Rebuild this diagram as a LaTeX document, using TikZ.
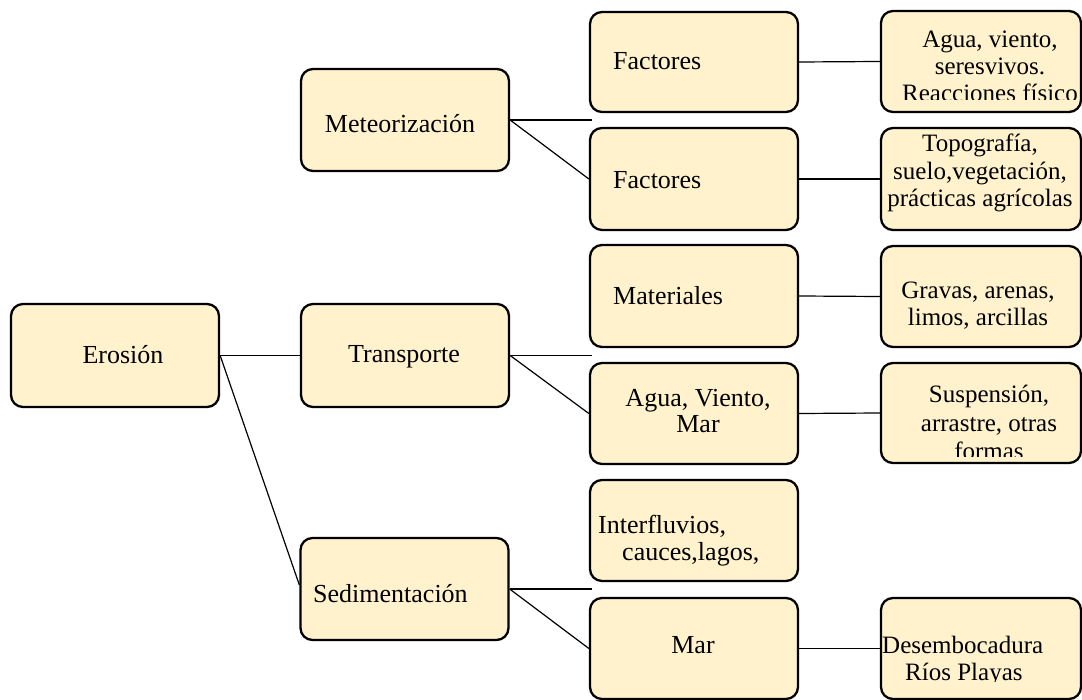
\documentclass[tikz,border=0pt]{standalone}
\usepackage{fontspec}
\setmainfont{Liberation Serif}
\definecolor{boxfill}{RGB}{255,242,204}
\begin{document}
\begin{tikzpicture}[x=1pt,y=-1pt,
  box/.style={draw=black, line width=2.3pt, rounded corners=12pt, fill=boxfill, inner sep=0pt, minimum width=208pt, minimum height=102pt},
  rbox/.style={box, minimum width=200pt, minimum height=101pt},
  txt/.style={inner sep=0pt, font=\fontsize{26}{26}\selectfont},
  stxt/.style={inner sep=0pt, font=\fontsize{25}{27.5}\selectfont},
  link/.style={line width=1.2pt, draw=black}]
\useasboundingbox (0,0) rectangle (1082,700);

% boxes
\node[box, minimum height=103pt] (ero) at (115,355.5) {};
\node[box] (met) at (405,120) {};
\node[box, minimum height=103pt] (tra) at (405,355.5) {};
\node[box] (sed) at (404.5,589) {};
\node[box, minimum height=100pt] (fa1) at (694,62) {};
\node[box] (fa2) at (694,179) {};
\node[box] (mat) at (694,296) {};
\node[box, minimum height=101pt] (agu) at (694,413.5) {};
\node[box, minimum height=101pt] (int) at (694,530.5) {};
\node[box, minimum height=101pt] (mar) at (694,648.5) {};
\node[rbox] (r1) at (981,61.5) {};
\node[rbox, minimum height=102pt] (r2) at (981,179) {};
\node[rbox] (r3) at (981,296.5) {};
\node[rbox, minimum height=100pt] (r4) at (981,413) {};
\node[rbox] (r5) at (981,648.5) {};

% texts (base anchor = baseline of the last line)
\node[txt, anchor=base] (t-ero) at (123,364) {Erosión};
\node[txt, anchor=base] (t-met) at (400,133) {Meteorización};
\node[txt, anchor=base] (t-tra) at (404,363) {Transporte};
\node[txt, anchor=base west] (t-sed) at (313,602) {Sedimentación};
\node[txt, anchor=base west] (t-fa1) at (613,70) {Factores};
\node[txt, anchor=base west] (t-fa2) at (613,189) {Factores};
\node[txt, anchor=base west] (t-mat) at (613,305) {Materiales};
\node[txt, anchor=base, align=center] (t-agu) at (698,433) {Agua, Viento,\\Mar};
\node[txt, anchor=base west, align=left, font=\fontsize{26}{27}\selectfont] (t-int) at (598,560) {Interfluvios,\\\hspace*{24pt}cauces,lagos,};
\node[txt, anchor=base] (t-mar) at (693,653) {Mar};

\begin{scope}
  \clip (881,11) rectangle (1082,100);
  \node[stxt, anchor=base, align=center, font=\fontsize{25}{27}\selectfont] (t-r1) at (990,102) {Agua, viento,\\seresvivos.\\Reacciones físico};
\end{scope}
\node[stxt, anchor=base, align=center] (t-r2) at (980,207) {Topografía,\\suelo,vegetación,\\prácticas agrícolas};
\node[stxt, anchor=base, align=center, font=\fontsize{25}{26.5}\selectfont] (t-r3) at (978,325.5) {Gravas, arenas,\\limos, arcillas};
\begin{scope}
  \clip (881,363) rectangle (1082,457);
  \node[stxt, anchor=base, align=center, font=\fontsize{25}{28.5}\selectfont] (t-r4) at (989,460) {Suspensión,\\arrastre, otras\\formas};
\end{scope}
\begin{scope}
  \clip (881,598) rectangle (1082,681);
  \node[stxt, anchor=base west, align=left, font=\fontsize{25}{27}\selectfont] (t-r5) at (882,680) {Desembocadura\\\hspace*{23pt}Ríos Playas};
\end{scope}

% connectors
\coordinate (m1) at (592,120);
\coordinate (t1) at (592,355.5);
\coordinate (s1) at (592,589);
\draw[link] (ero.east) -- (tra.west);
\draw[link] (ero.east) -- ([yshift=4pt]sed.west);
\draw[link] (met.east) -- (m1);
\draw[link] (met.east) -- (fa2.west);
\draw[link] (tra.east) -- (t1);
\draw[link] (tra.east) -- (agu.west);
\draw[link] (sed.east) -- (s1);
\draw[link] (sed.east) -- (mar.west);
\draw[link] (fa1.east) -- (r1.west);
\draw[link] (fa2.east) -- (r2.west);
\draw[link] (mat.east) -- (r3.west);
\draw[link] (agu.east) -- (r4.west);
\draw[link] (mar.east) -- (r5.west);
\end{tikzpicture}
\end{document}
